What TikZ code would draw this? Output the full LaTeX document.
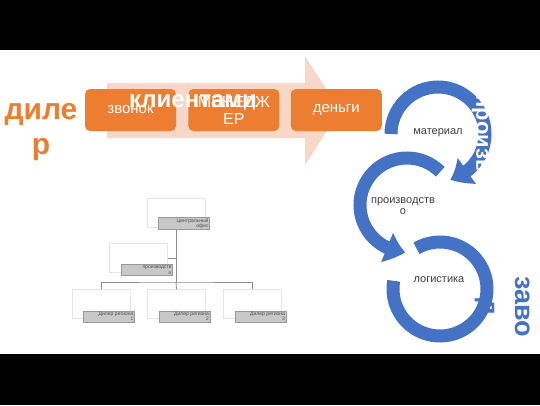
\documentclass[tikz,border=0pt]{standalone}
\usepackage{fontspec}
\setmainfont{Liberation Sans}
\usetikzlibrary{arrows.meta}
\usetikzlibrary{bending}
\usetikzlibrary{positioning}
\definecolor{orangebox}{RGB}{237,125,49}
\definecolor{bluering}{RGB}{68,114,196}
\definecolor{palearrow}{RGB}{248,214,200}
\definecolor{labelgray}{RGB}{200,200,200}

\begin{document}
\begin{tikzpicture}[x=1pt, y=-1pt,
  stepcard/.style={fill=orangebox, rounded corners=5pt, text=white, minimum width=91pt, minimum height=42pt, inner sep=2pt, font=\fontsize{15}{17}\selectfont, align=center},
  ring/.style={draw=bluering, line width=13pt},
  ringtip/.style={-{Triangle[width=30pt,length=19pt,bend]}},
  ringtext/.style={text=black!75, font=\fontsize{11}{11}\selectfont, align=center},
  orgbox/.style={fill=white, draw=gray!20, minimum width=58pt, minimum height=29pt, inner sep=0pt},
  orglabel/.style={fill=labelgray, draw=gray!80, minimum height=11pt, inner sep=1pt, text width=49pt, align=right, font=\fontsize{5}{5.5}\selectfont, text=black!70},
  orgline/.style={draw=gray!90, line width=0.8pt}]
  % 画布与上下黑边
  \useasboundingbox (0,0) rectangle (540,405);
  \fill[white] (0,50) rectangle (540,354);
  \fill[black] (0,0) rectangle (540,50);
  \fill[black] (0,354) rectangle (540,405);
  % 背景大箭头
  \fill[palearrow] (107,83) -- (305,83) -- (305,56) -- (340,110.5) -- (305,165) -- (305,138) -- (107,138) -- cycle;
  % 三个橙色步骤
  \node[stepcard] (call) at (130.5,110) {\raisebox{-2pt}{звонок}};
  \node[stepcard, right=12pt of call, font=\fontsize{16}{17}\selectfont] (manager) {МЕНЕДЖ\\ЕР};
  \node[stepcard, right=11pt of manager] (money) {\raisebox{-2pt}{деньги}};
  \node[text=white, font=\bfseries\fontsize{24}{24}\selectfont, anchor=base] (clients) at (193,107) {клиентами};
  % 左侧标题
  \node[text=orangebox, font=\bfseries\fontsize{30}{35}\selectfont, align=center] (dealer) at (41,132) {диле\\р};
  % 循环箭头的圆心
  \coordinate (hubA) at (438,134);
  \coordinate (hubB) at (407,205);
  \coordinate (hubC) at (440,289);
  % 绘制三个环
  \draw[ring] ([shift={(240:47)}]hubC) arc[start angle=240, end angle=550, radius=47];
  \draw[ring, ringtip] ([shift={(315:47)}]hubB) arc[start angle=315, end angle=92, radius=47];
  \draw[ring, ringtip] ([shift={(180:47)}]hubA) arc[start angle=180, end angle=435, radius=47];
  % 环内文字
  \node[ringtext] (material) at (438,133) {материал};
  \node[ringtext] (making) at (403,206) {производств\\о};
  \node[ringtext] (logistics) at (439,280) {логистика};
  % 竖排文字
  \node[text=white, font=\bfseries\fontsize{22}{22}\selectfont, rotate=-90] (works) at (480,171) {производства};
  \node[text=bluering, font=\bfseries\fontsize{27}{35}\selectfont, rotate=-90, align=center] (plant) at (503,307) {заво\\д};
  % 组织结构图方框
  \node[orgbox] (centerbox) at (176,212.5) {};
  \node[orgbox] (prodbox) at (138.5,258) {};
  \foreach \i/\x in {1/101,2/176.5,3/252.5}
  {
    \node[orgbox] (dlrbox\i) at (\x,304) {};
  }
  % 连接线
  \coordinate (fork) at (176,282);
  \draw[orgline] (centerbox.south) -- (fork);
  \draw[orgline] (prodbox.east) -- (prodbox.east -| fork);
  \draw[orgline] (dlrbox1.north) |- (fork) -| (dlrbox3.north);
  \draw[orgline] (fork) -- (dlrbox2.north);
  % 灰色标签
  \node[orglabel] (center) at (184,223.5) {Центральный\\офис};
  \node[orglabel] (prod) at (147,270) {производств\\о};
  \foreach \i/\x in {1/101,2/176.5,3/252.5}
  {
    \node[orglabel] (dlr\i) at (\x+8,316.5) {Дилер региона\\\i};
  }
\end{tikzpicture}
\end{document}
